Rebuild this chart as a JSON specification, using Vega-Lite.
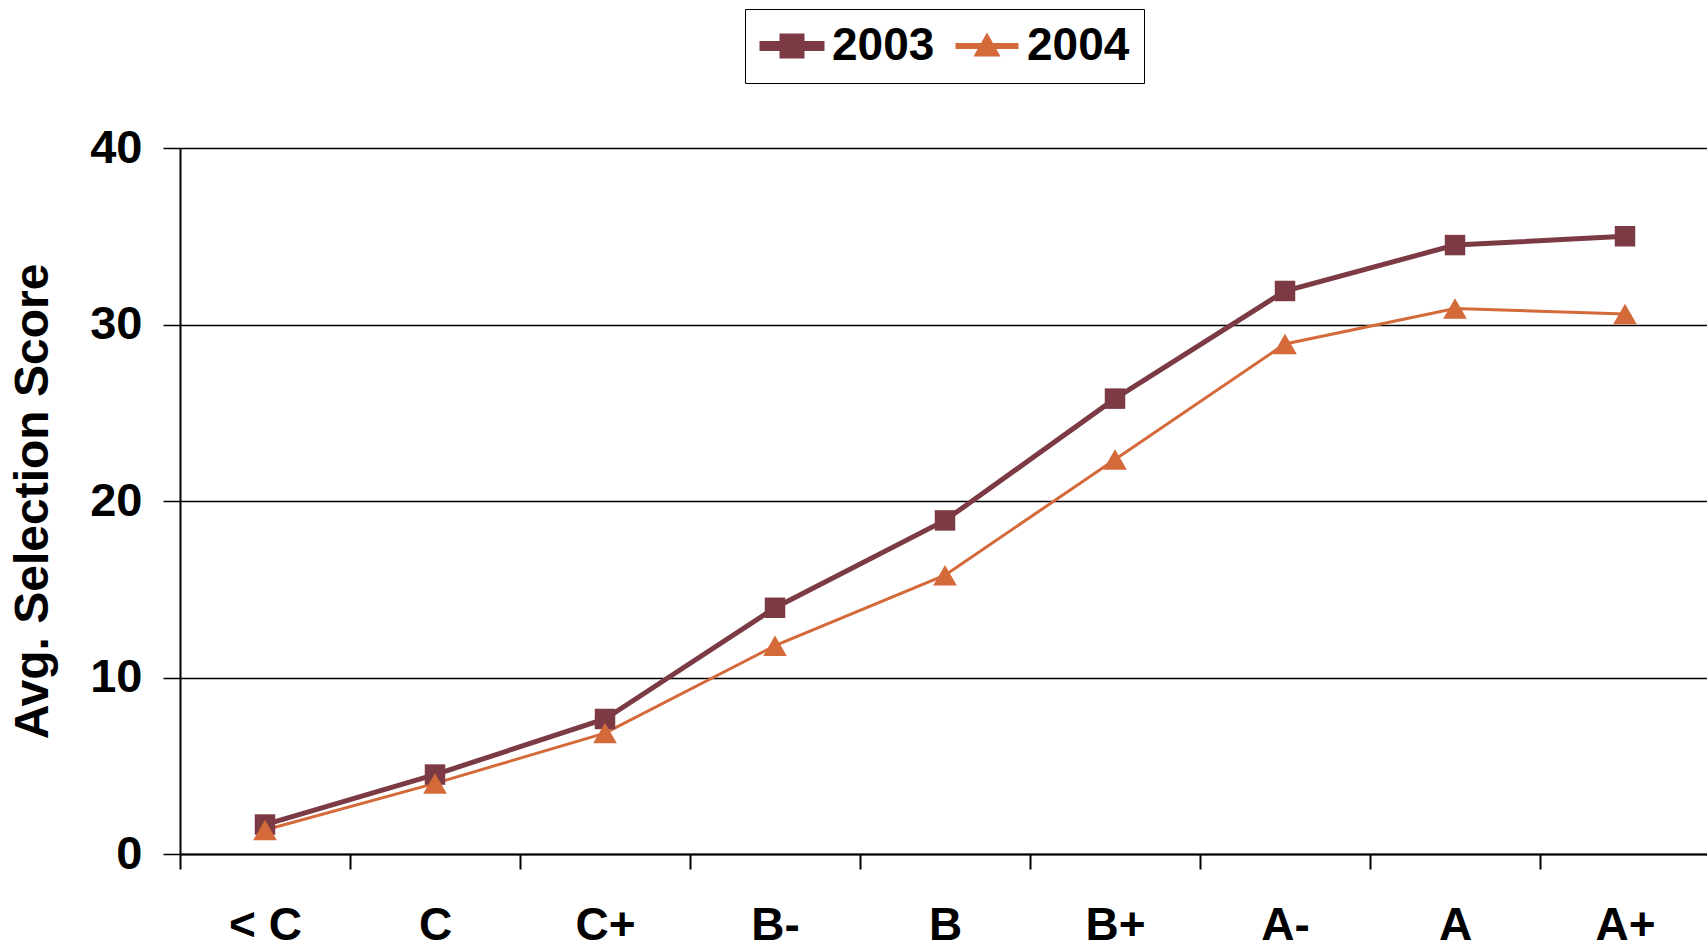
{
  "$schema": "https://vega.github.io/schema/vega-lite/v6.json",
  "width": 1530,
  "height": 706,
  "autosize": {"type": "none"},
  "padding": {"left": 180, "top": 148, "right": 0, "bottom": 94},
  "background": "white",
  "config": {"view": {"stroke": null}, "font": "Liberation Sans"},
  "data": {
    "values": [
      {"grade": "< C", "year": "2003", "score": 1.67},
      {"grade": "C", "year": "2003", "score": 4.5},
      {"grade": "C+", "year": "2003", "score": 7.65},
      {"grade": "B-", "year": "2003", "score": 13.95},
      {"grade": "B", "year": "2003", "score": 18.9},
      {"grade": "B+", "year": "2003", "score": 25.8},
      {"grade": "A-", "year": "2003", "score": 31.9},
      {"grade": "A", "year": "2003", "score": 34.5},
      {"grade": "A+", "year": "2003", "score": 35.0},
      {"grade": "< C", "year": "2004", "score": 1.36},
      {"grade": "C", "year": "2004", "score": 4.0},
      {"grade": "C+", "year": "2004", "score": 6.85},
      {"grade": "B-", "year": "2004", "score": 11.8},
      {"grade": "B", "year": "2004", "score": 15.8},
      {"grade": "B+", "year": "2004", "score": 22.35},
      {"grade": "A-", "year": "2004", "score": 28.9},
      {"grade": "A", "year": "2004", "score": 30.9},
      {"grade": "A+", "year": "2004", "score": 30.6}
    ]
  },
  "encoding": {
    "x": {
      "field": "grade",
      "type": "ordinal",
      "sort": ["< C", "C", "C+", "B-", "B", "B+", "A-", "A", "A+"],
      "scale": {"type": "band", "paddingInner": 0, "paddingOuter": 0},
      "bandPosition": 0.5,
      "axis": {
        "title": null,
        "labelFont": "Liberation Sans",
        "labelFontWeight": "bold",
        "labelFontSize": 46,
        "labelColor": "black",
        "labelPadding": 34,
        "labelAngle": 0,
        "tickSize": 15,
        "tickColor": "black",
        "tickWidth": 2,
        "tickBand": "extent",
        "domainColor": "black",
        "domainWidth": 2,
        "grid": false
      }
    },
    "y": {
      "field": "score",
      "type": "quantitative",
      "scale": {"domain": [0, 40]},
      "axis": {
        "title": "Avg. Selection Score",
        "titleFont": "Liberation Sans",
        "titleFontWeight": "bold",
        "titleFontSize": 48,
        "titleColor": "black",
        "titlePadding": 32,
        "labelFont": "Liberation Sans",
        "labelFontSize": 47,
        "labelFontWeight": "bold",
        "labelColor": "black",
        "labelPadding": 21,
        "tickSize": 17,
        "tickColor": "black",
        "tickWidth": 1.5,
        "values": [0, 10, 20, 30, 40],
        "grid": true,
        "gridColor": "black",
        "gridWidth": 1.5,
        "gridOpacity": 1,
        "domainColor": "black",
        "domainWidth": 2
      }
    },
    "color": {
      "field": "year",
      "type": "nominal",
      "scale": {"domain": ["2003", "2004"], "range": ["#7B3A44", "#D4693A"]},
      "legend": {
        "orient": "none",
        "legendX": 565,
        "legendY": -139,
        "direction": "horizontal",
        "title": null,
        "labelFont": "Liberation Sans",
        "labelFontWeight": "bold",
        "labelFontSize": 46,
        "labelColor": "black",
        "labelLimit": 0,
        "labelOffset": 27,
        "columnPadding": 16,
        "padding": 14,
        "symbolSize": 1600,
        "symbolStrokeWidth": 0,
        "strokeColor": "black",
        "fillColor": "white",
        "encode": {
          "symbols": {
            "update": {
              "fill": {
                "condition": {"test": "datum.value === '2003'", "value": "#7B3A44"},
                "value": "#D4693A"
              },
              "opacity": {"value": 1},
              "strokeWidth": {"value": 0}
            }
          }
        }
      }
    }
  },
  "layer": [
    {
      "mark": {"type": "line"},
      "encoding": {
        "strokeWidth": {
          "field": "year",
          "type": "nominal",
          "scale": {"domain": ["2003", "2004"], "range": [5, 3]},
          "legend": null
        }
      }
    },
    {
      "mark": {"type": "point", "filled": true, "opacity": 1},
      "encoding": {
        "shape": {
          "condition": {"test": "datum.year === '2003'", "value": "square"},
          "value": "triangle-up"
        },
        "size": {
          "condition": {"test": "datum.year === '2003'", "value": 420},
          "value": 560
        }
      }
    },
    {
      "transform": [{"filter": "false"}],
      "mark": {"type": "point", "filled": true, "opacity": 1},
      "encoding": {
        "shape": {
          "field": "year",
          "type": "nominal",
          "scale": {
            "domain": ["2003", "2004"],
            "range": [
              "M-1,-0.125H2V0.125H-1Z M0,-0.5H1V0.5H0Z",
              "M-1,-0.075H2V0.075H-1Z M0.5,-0.52L1.05,0.45H-0.05Z"
            ]
          },
          "legend": {
            "orient": "none",
            "legendX": 565,
            "legendY": -139,
            "direction": "horizontal",
            "title": null
          }
        }
      }
    }
  ]
}
